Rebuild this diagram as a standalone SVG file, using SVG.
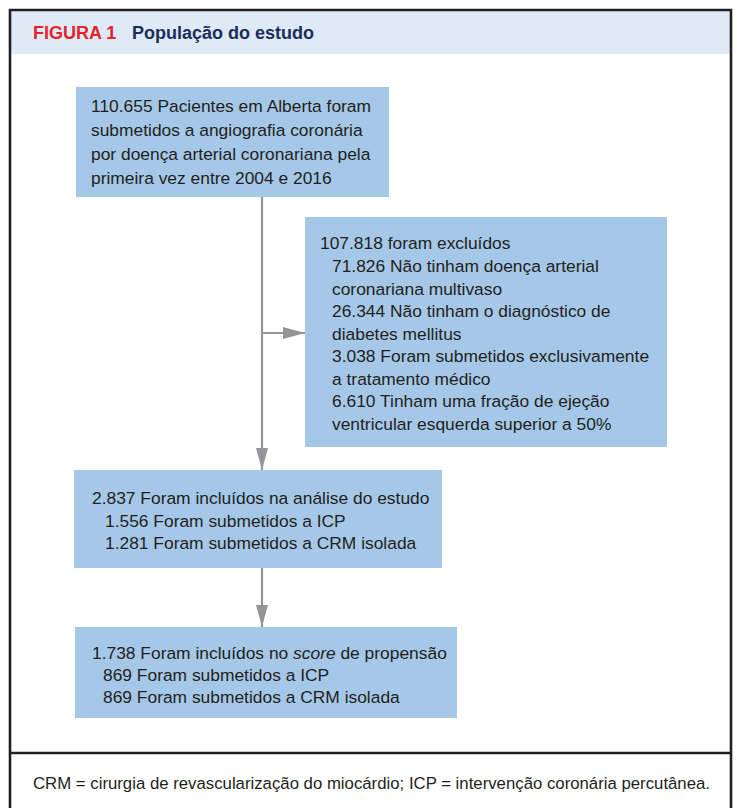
<svg xmlns="http://www.w3.org/2000/svg" width="737" height="808" viewBox="0 0 737 808">
<style>
.box{fill:#a6c8e8;}
.t{font-family:"Liberation Sans",Arial,sans-serif;font-size:17.4px;fill:#231f20;}
.h{font-family:"Liberation Sans",Arial,sans-serif;font-size:18px;font-weight:bold;}
.c{stroke:#939598;stroke-width:2.2;fill:none;}
.frame{stroke:#231f20;stroke-width:2.6;fill:none;}
</style>
<defs>
<marker id="arr" markerWidth="22" markerHeight="12" refX="22" refY="6" orient="auto" markerUnits="userSpaceOnUse">
<path d="M0,0 L22,6 L0,12 Z" fill="#939598"/>
</marker>
</defs>
<rect x="0" y="0" width="737" height="808" fill="#ffffff"/>
<g id="header">
<rect x="10" y="10" width="721" height="44" fill="#deebf7"/>
<text x="33" y="39" class="h" fill="#e4232d">FIGURA 1</text>
<text x="132" y="39" class="h" fill="#1b2d5c">População do estudo</text>
</g>
<g id="frame">
<path class="frame" d="M10,808 L10,10 L731,10 L731,808"/>
<line class="frame" x1="10" y1="753" x2="731" y2="753"/>
</g>
<g id="connectors">
<line class="c" x1="262" y1="197" x2="262" y2="470" marker-end="url(#arr)"/>
<line class="c" x1="262" y1="333" x2="305" y2="333" marker-end="url(#arr)"/>
<line class="c" x1="262" y1="568" x2="262" y2="627" marker-end="url(#arr)"/>
</g>
<g id="node1">
<rect class="box" x="76" y="87" width="313" height="110"/>
<text class="t" x="91" y="112">110.655 Pacientes em Alberta foram</text>
<text class="t" x="91" y="136">submetidos a angiografia coronária</text>
<text class="t" x="91" y="160">por doença arterial coronariana pela</text>
<text class="t" x="91" y="184">primeira vez entre 2004 e 2016</text>
</g>
<g id="node2">
<rect class="box" x="305" y="217" width="362" height="230"/>
<text class="t" x="320" y="249">107.818 foram excluídos</text>
<text class="t" x="332" y="272">71.826 Não tinham doença arterial</text>
<text class="t" x="332" y="295">coronariana multivaso</text>
<text class="t" x="332" y="317">26.344 Não tinham o diagnóstico de</text>
<text class="t" x="332" y="340">diabetes mellitus</text>
<text class="t" x="332" y="362">3.038 Foram submetidos exclusivamente</text>
<text class="t" x="332" y="385">a tratamento médico</text>
<text class="t" x="332" y="407">6.610 Tinham uma fração de ejeção</text>
<text class="t" x="332" y="430">ventricular esquerda superior a 50%</text>
</g>
<g id="node3">
<rect class="box" x="74" y="470" width="368" height="98"/>
<text class="t" x="92" y="504">2.837 Foram incluídos na análise do estudo</text>
<text class="t" x="105" y="527">1.556 Foram submetidos a ICP</text>
<text class="t" x="105" y="549">1.281 Foram submetidos a CRM isolada</text>
</g>
<g id="node4">
<rect class="box" x="75" y="627" width="382" height="91"/>
<text class="t" x="92" y="659">1.738 Foram incluídos no <tspan font-style="italic">score</tspan> de propensão</text>
<text class="t" x="103" y="681">869 Foram submetidos a ICP</text>
<text class="t" x="103" y="703">869 Foram submetidos a CRM isolada</text>
</g>
<g id="footer">
<text class="t" x="33" y="789" font-size="16" textLength="677" lengthAdjust="spacingAndGlyphs">CRM = cirurgia de revascularização do miocárdio; ICP = intervenção coronária percutânea.</text>
</g>
</svg>
